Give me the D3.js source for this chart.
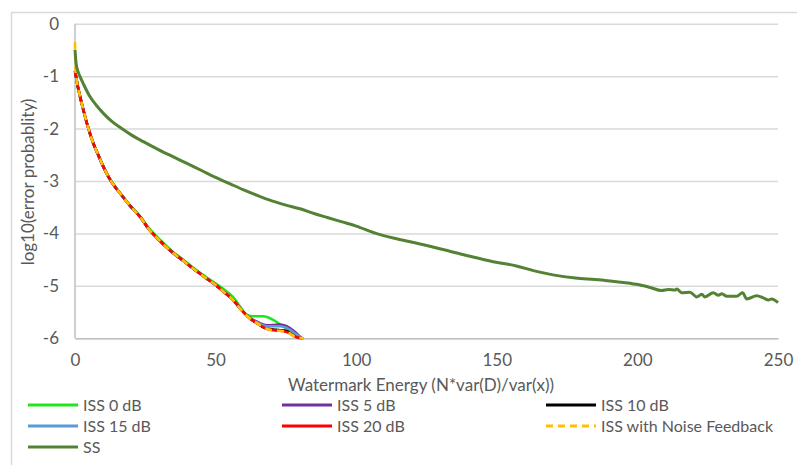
<!DOCTYPE html>
<html><head><meta charset="utf-8">
<script src="https://cdn.jsdelivr.net/npm/d3@7"></script>
<style>
body{margin:0;background:#fff;}
text{font-family:Lato,"Open Sans",sans-serif;fill:#595959;}
</style></head>
<body><svg id="c" width="797" height="465"></svg>
<script>
// ---- data ----
const xTicks = [0, 50, 100, 150, 200, 250];
const yTicks = [0, -1, -2, -3, -4, -5, -6];
const xTitle = "Watermark Energy (N*var(D)/var(x))";
const yTitle = "log10(error probablity)";

const iss0 = [[0,-0.9],[0.5,-1.05],[1,-1.2],[1.8,-1.39],[3,-1.65],[4.5,-1.95],[6.5,-2.28],[8,-2.47],[10.1,-2.72],[12,-2.92],[14.2,-3.1],[17,-3.29],[20,-3.49],[23.1,-3.67],[26,-3.88],[30,-4.11],[32.5,-4.24],[35,-4.36],[38,-4.48],[42,-4.65],[46,-4.81],[50.4,-4.97],[53,-5.07],[56.3,-5.22],[59,-5.42],[61,-5.55],[63,-5.58],[67,-5.58],[70.5,-5.65],[74.1,-5.78],[76.4,-5.86],[79.4,-5.98],[80.2,-6.0]];
const iss5 = [[0,-0.9],[0.5,-1.05],[1,-1.2],[1.8,-1.39],[3,-1.65],[4.5,-1.95],[6.5,-2.28],[8,-2.47],[10.1,-2.73],[12,-2.93],[14.2,-3.11],[17,-3.3],[20,-3.5],[23.1,-3.68],[26,-3.9],[30,-4.13],[32.5,-4.26],[35,-4.38],[38,-4.5],[42,-4.67],[46,-4.83],[50.4,-5.0],[53,-5.12],[56.3,-5.27],[59,-5.45],[62.2,-5.61],[64.6,-5.68],[68.2,-5.75],[72.9,-5.74],[75.3,-5.77],[77.6,-5.85],[80.6,-6.0]];
const iss10 = [[0,-0.9],[0.5,-1.05],[1,-1.2],[1.8,-1.39],[3,-1.65],[4.5,-1.95],[6.5,-2.28],[8,-2.47],[10.1,-2.73],[12,-2.93],[14.2,-3.11],[17,-3.3],[20,-3.5],[23.1,-3.68],[26,-3.9],[30,-4.13],[32.5,-4.26],[35,-4.38],[38,-4.5],[42,-4.67],[46,-4.83],[50.4,-5.0],[53,-5.12],[56.3,-5.27],[59,-5.45],[62.2,-5.62],[65,-5.72],[67,-5.79],[69,-5.82],[71.7,-5.84],[75.3,-5.86],[78.8,-5.97],[80.8,-6.0]];
const iss15 = [[0,-0.9],[0.5,-1.05],[1,-1.2],[1.8,-1.39],[3,-1.65],[4.5,-1.95],[6.5,-2.28],[8,-2.47],[10.1,-2.73],[12,-2.93],[14.2,-3.11],[17,-3.3],[20,-3.5],[23.1,-3.68],[26,-3.9],[30,-4.13],[32.5,-4.26],[35,-4.38],[38,-4.5],[42,-4.67],[46,-4.83],[50.4,-5.0],[53,-5.12],[56.3,-5.27],[59,-5.45],[62.2,-5.62],[64.6,-5.69],[68.2,-5.77],[72.9,-5.77],[75.3,-5.8],[77.6,-5.88],[80.6,-6.0]];
const iss20 = [[0,-0.92],[0.5,-1.05],[1,-1.2],[1.8,-1.39],[3,-1.65],[4.5,-1.95],[6.5,-2.28],[8,-2.47],[10.1,-2.73],[12,-2.93],[14.2,-3.11],[17,-3.3],[20,-3.5],[23.1,-3.68],[26,-3.9],[30,-4.13],[32.5,-4.26],[35,-4.38],[38,-4.5],[42,-4.67],[46,-4.83],[50.4,-5.0],[53,-5.12],[56.3,-5.27],[59,-5.45],[62.2,-5.62],[65,-5.72],[67,-5.79],[69,-5.83],[71.7,-5.85],[75.3,-5.88],[78.8,-5.98],[81.2,-6.0]];
const issNF = [[0,-0.35],[0.2,-0.9],[0.5,-1.05],[1,-1.2],[1.8,-1.39],[3,-1.65],[4.5,-1.95],[6.5,-2.28],[8,-2.47],[10.1,-2.73],[12,-2.93],[14.2,-3.11],[17,-3.3],[20,-3.5],[23.1,-3.68],[26,-3.9],[30,-4.13],[32.5,-4.26],[35,-4.38],[38,-4.5],[42,-4.67],[46,-4.83],[50.4,-5.0],[53,-5.12],[56.3,-5.27],[59,-5.45],[62.2,-5.62],[65,-5.72],[67,-5.79],[69,-5.83],[71.7,-5.85],[75.3,-5.88],[78.8,-5.98],[81.2,-6.0]];
const ss = [[0,-0.5],[0.4,-0.76],[1,-0.9],[1.8,-1.01],[3,-1.15],[5.3,-1.39],[7.5,-1.55],[10.1,-1.71],[13,-1.86],[16.6,-2.0],[20,-2.12],[24.3,-2.25],[30,-2.41],[35,-2.54],[40,-2.67],[45,-2.8],[50,-2.93],[55,-3.05],[60,-3.17],[65,-3.28],[70,-3.38],[75,-3.46],[80,-3.53],[85,-3.62],[90,-3.7],[95,-3.78],[100,-3.86],[107,-4.0],[115,-4.11],[122.7,-4.2],[132,-4.32],[140,-4.43],[148.7,-4.54],[157,-4.62],[163,-4.71],[170,-4.79],[178,-4.85],[185,-4.88],[192.6,-4.92],[199.7,-4.97],[204.5,-5.03],[208.6,-5.09],[211,-5.07],[213.4,-5.08],[214,-5.06],[215.7,-5.13],[218.7,-5.12],[221.1,-5.21],[222.9,-5.16],[224,-5.21],[227,-5.13],[228.8,-5.18],[230,-5.15],[231.8,-5.2],[235.3,-5.2],[237.4,-5.13],[238.9,-5.25],[242.4,-5.19],[244.8,-5.23],[246.6,-5.27],[247.7,-5.25],[250,-5.32]];

const seriesNames = ["ISS 0 dB","ISS 5 dB","ISS 10 dB","ISS 15 dB","ISS 20 dB","ISS with Noise Feedback","SS"];
const seriesData = [iss0, iss5, iss10, iss15, iss20, issNF, ss];
const seriesColors = ["#1EE61E","#7030A0","#000000","#5B9BD5","#FF0000","#FFC000","#548235"];
const seriesDash = [null,null,null,null,null,"7,5",null];

// ---- layout ----
const svg = d3.select("#c");
const L = 75, R = 778, T = 23.7, B = 338.3;
const x = d3.scaleLinear().domain([0,250]).range([L,R]);
const y = d3.scaleLinear().domain([-6,0]).range([B,T]);

// outer border
svg.append("rect").attr("x",11.5).attr("y",12.5).attr("width",820).attr("height",480)
  .attr("fill","none").attr("stroke","#D9D9D9").attr("stroke-width",1.5);

// grid
const yAx = d3.axisLeft(y).tickValues(yTicks).tickSize(-(R-L)).tickFormat(d=>d===0?"0":"-"+Math.abs(d)).tickPadding(16);
const gy = svg.append("g").attr("transform",`translate(${L},0)`).call(yAx);
gy.select(".domain").remove();
gy.selectAll(".tick line").attr("stroke","#D9D9D9").attr("stroke-width",1.5);
gy.selectAll(".tick text").attr("font-size",17).style("font-family","Lato").style("fill","#595959");

// axes lines
svg.append("line").attr("x1",L).attr("x2",L).attr("y1",T).attr("y2",B).attr("stroke","#BFBFBF").attr("stroke-width",1.5);
const xAx = d3.axisBottom(x).tickValues(xTicks).tickSize(0).tickPadding(16);
const gx = svg.append("g").attr("transform",`translate(0,${B})`).call(xAx);
gx.select(".domain").attr("stroke","#BFBFBF").attr("stroke-width",1.5);
gx.selectAll(".tick text").attr("font-size",17).style("font-family","Lato").style("fill","#595959");

// titles
svg.append("text").attr("x",421).attr("y",391).attr("text-anchor","middle").attr("font-size",17).text(xTitle);
svg.append("text").attr("transform","translate(34,182) rotate(-90)").attr("text-anchor","middle").attr("font-size",17).text(yTitle);

// lines
const line = d3.line().x(d=>x(d[0])).y(d=>y(d[1])).curve(d3.curveMonotoneX);
seriesData.forEach((data,i)=>{
  svg.append("path").datum(data).attr("d",line).attr("fill","none")
    .attr("stroke",seriesColors[i]).attr("stroke-width",i===6?3:2.6)
    .attr("stroke-dasharray",seriesDash[i]).attr("stroke-linejoin","round");
});

// legend
const colX = [28, 282, 546];
const rowY = [405, 426, 447];
seriesNames.forEach((n,i)=>{
  const cx = colX[i%3], cy = rowY[Math.floor(i/3)];
  const g = svg.append("g").attr("transform",`translate(${cx},${cy})`);
  g.append("line").attr("x1",0).attr("x2",50).attr("y1",0).attr("y2",0)
    .attr("stroke",seriesColors[i]).attr("stroke-width",3).attr("stroke-dasharray",seriesDash[i]);
  g.append("text").attr("x",55).attr("y",0).attr("dy","0.35em").attr("font-size",16).text(n);
});
</script></body></html>
